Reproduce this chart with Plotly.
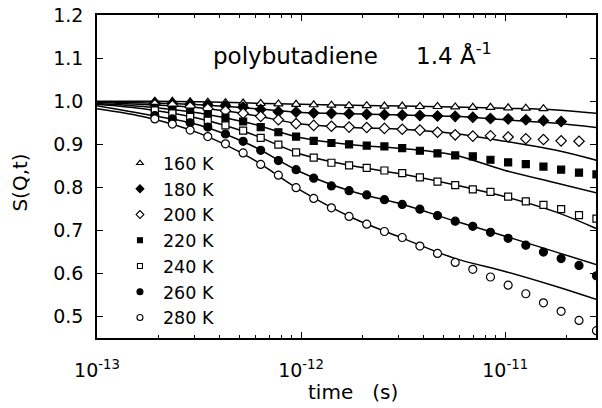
import plotly.graph_objects as go

# measurement times (s) of the data points
t_pts = [1.92e-13, 2.34e-13, 2.86e-13, 3.49e-13, 4.26e-13, 5.20e-13, 6.34e-13,
         7.74e-13, 9.45e-13, 1.153e-12, 1.408e-12, 1.718e-12, 2.097e-12, 2.56e-12,
         3.13e-12, 3.82e-12, 4.66e-12, 5.69e-12, 6.94e-12, 8.47e-12, 1.034e-11,
         1.262e-11, 1.54e-11, 1.88e-11, 2.30e-11, 2.80e-11]

# times at which the fitted curves were read
t_fit = [1.0e-13, 1.78e-13, 3.16e-13, 5.62e-13, 1.0e-12, 1.78e-12, 3.16e-12,
         5.62e-12, 1.0e-11, 1.78e-11, 2.79e-11]

labels = ["160 K", "180 K", "200 K", "220 K", "240 K", "260 K", "280 K"]

s160 = [1.000, 1.000, 0.999, 0.998, 0.997, 0.996, 0.995, 0.994, 0.993, 0.992,
        0.991, 0.990, 0.990, 0.989, 0.989, 0.988, 0.988, 0.987, 0.986, 0.986,
        0.985, 0.984, 0.983]
s180 = [0.996, 0.995, 0.993, 0.991, 0.989, 0.986, 0.981, 0.976, 0.975, 0.973,
        0.972, 0.971, 0.970, 0.969, 0.968, 0.967, 0.966, 0.965, 0.963, 0.960,
        0.959, 0.957, 0.955, 0.953]
s200 = [0.992, 0.990, 0.987, 0.983, 0.978, 0.972, 0.965, 0.957, 0.948, 0.944,
        0.942, 0.940, 0.939, 0.937, 0.935, 0.933, 0.928, 0.922, 0.919, 0.920,
        0.917, 0.913, 0.911, 0.908, 0.907]
s220 = [0.985, 0.981, 0.976, 0.970, 0.962, 0.953, 0.940, 0.928, 0.918, 0.908,
        0.903, 0.900, 0.897, 0.895, 0.891, 0.885, 0.879, 0.874, 0.872, 0.864,
        0.858, 0.854, 0.848, 0.841, 0.834, 0.830]
s240 = [0.979, 0.972, 0.964, 0.955, 0.944, 0.932, 0.915, 0.899, 0.881, 0.869,
        0.857, 0.851, 0.845, 0.839, 0.833, 0.823, 0.813, 0.805, 0.795, 0.789,
        0.778, 0.767, 0.759, 0.749, 0.735, 0.727]
s260 = [0.967, 0.959, 0.950, 0.940, 0.924, 0.907, 0.886, 0.862, 0.841, 0.821,
        0.803, 0.792, 0.782, 0.771, 0.760, 0.749, 0.734, 0.721, 0.709, 0.695,
        0.681, 0.665, 0.649, 0.634, 0.618, 0.594]
s280 = [0.959, 0.947, 0.933, 0.918, 0.901, 0.880, 0.853, 0.828, 0.799, 0.774,
        0.752, 0.732, 0.714, 0.697, 0.683, 0.663, 0.646, 0.625, 0.609, 0.591,
        0.572, 0.552, 0.531, 0.511, 0.490, 0.466]

fit160 = [1.000, 1.000, 0.999, 0.996, 0.993, 0.991, 0.989, 0.987, 0.984, 0.980, 0.972]
fit180 = [0.999, 0.996, 0.992, 0.984, 0.974, 0.971, 0.968, 0.965, 0.957, 0.949, 0.939]
fit200 = [0.997, 0.992, 0.985, 0.969, 0.947, 0.939, 0.935, 0.925, 0.907, 0.886, 0.863]
fit220 = [0.995, 0.987, 0.973, 0.949, 0.915, 0.899, 0.890, 0.875, 0.839, 0.810, 0.787]
fit240 = [0.993, 0.981, 0.960, 0.925, 0.877, 0.850, 0.830, 0.806, 0.778, 0.742, 0.704]
fit260 = [0.990, 0.969, 0.945, 0.899, 0.835, 0.790, 0.760, 0.722, 0.686, 0.649, 0.620]
fit280 = [0.983, 0.962, 0.926, 0.869, 0.792, 0.729, 0.681, 0.635, 0.604, 0.569, 0.539]

series = [s160, s180, s200, s220, s240, s260, s280]
fits = [fit160, fit180, fit200, fit220, fit240, fit260, fit280]
symbols = ["triangle-up", "diamond", "diamond", "square", "square", "circle", "circle"]
filled = [False, True, False, True, False, True, False]
sizes = [8, 8, 8, 7, 7, 8, 8]
legend_sizes = [6, 6, 6, 5, 5, 6, 6]

FONT = "DejaVu Sans"
fig = go.Figure()

for f in fits:
    fig.add_trace(go.Scatter(x=t_fit, y=f, mode="lines",
                             line=dict(color="black", width=1.5, shape="spline"),
                             showlegend=False, hoverinfo="skip"))

for lab, s, sym, fl, sz in zip(labels, series, symbols, filled, sizes):
    fig.add_trace(go.Scatter(
        x=t_pts[:len(s)], y=s, mode="markers", name=lab, legendgroup=lab,
        showlegend=False,
        marker=dict(symbol=sym, size=sz, color="black" if fl else "white",
                    line=dict(color="black", width=1.2)),
    ))

# legend entries (smaller symbols, as in the original key)
for lab, sym, fl, sz in zip(labels, symbols, filled, legend_sizes):
    fig.add_trace(go.Scatter(
        x=[None], y=[None], mode="markers", name=lab, legendgroup=lab,
        marker=dict(symbol=sym, size=sz, color="black" if fl else "white",
                    line=dict(color="black", width=1.1)),
    ))

fig.update_layout(
    width=602, height=408,
    margin=dict(l=97, r=4, t=12, b=70),
    paper_bgcolor="white", plot_bgcolor="white",
    font=dict(family=FONT, color="black", size=19),
    showlegend=True,
    legend=dict(x=0.04, y=0.597, xanchor="left", yanchor="top", bgcolor="rgba(0,0,0,0)",
                font=dict(family=FONT, size=17.5), itemwidth=36, tracegroupgap=0),
)

fig.update_xaxes(
    type="log", range=[-13, -10.555],
    tickvals=[1e-13, 1e-12, 1e-11],
    ticktext=["10<sup>-13</sup>", "10<sup>-12</sup>", "10<sup>-11</sup>"],
    ticks="inside", ticklen=6, tickwidth=1.2, tickcolor="black",
    minor=dict(dtick="D1", ticks="inside", ticklen=3, tickcolor="black", showgrid=False),
    showline=True, linecolor="black", linewidth=1.5, mirror="ticks",
    showgrid=False, zeroline=False, ticklabelstandoff=14,
    tickfont=dict(family=FONT, size=19),
)
fig.update_yaxes(
    range=[0.449, 1.201],
    tickvals=[0.5, 0.6, 0.7, 0.8, 0.9, 1.0, 1.1, 1.2],
    tickformat=".1f",
    ticks="inside", ticklen=6, tickwidth=1.2, tickcolor="black",
    showline=True, linecolor="black", linewidth=1.5, mirror="ticks",
    showgrid=False, zeroline=False, ticklabelstandoff=8,
    tickfont=dict(family=FONT, size=19),
)

fig.add_annotation(text="polybutadiene", xref="paper", yref="paper", x=0.398, y=0.872,
                   xanchor="center", yanchor="middle", showarrow=False,
                   font=dict(family=FONT, size=23))
fig.add_annotation(text="1.4 Å<sup>-1</sup>", xref="paper", yref="paper", x=0.635, y=0.879,
                   xanchor="left", yanchor="middle", showarrow=False,
                   font=dict(family=FONT, size=23))
fig.add_annotation(text="S(Q,t)", xref="paper", yref="paper", x=-0.155, y=0.48,
                   xanchor="center", yanchor="middle", textangle=-90, showarrow=False,
                   font=dict(family=FONT, size=20))
fig.add_annotation(text="time\u00a0\u00a0\u00a0(s)", xref="paper", yref="paper", x=0.513, y=-0.168,
                   xanchor="center", yanchor="middle", showarrow=False,
                   font=dict(family=FONT, size=20))

fig.write_html("out.html")
